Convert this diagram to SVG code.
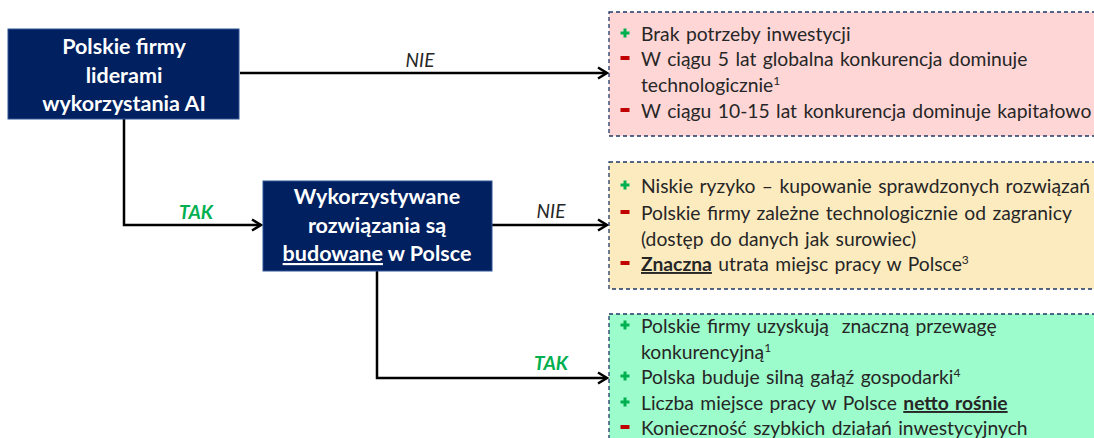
<svg xmlns="http://www.w3.org/2000/svg" width="1094" height="438" viewBox="0 0 1094 438">
<style>
.dec{fill:#002060;stroke:#2f5597;stroke-width:1}
.dt{font-family:Lato,"Liberation Sans",sans-serif;font-weight:bold;font-size:21.5px;fill:#fff;text-anchor:middle}
.out{stroke:#1f3864;stroke-width:1.3;stroke-dasharray:4 3}
.bt{font-family:Lato,"Liberation Sans",sans-serif;font-size:19.3px;fill:#262626;word-spacing:1.5px}
.sup{font-size:12px}
.con{fill:none;stroke:#000;stroke-width:2.5}
.nie{font-family:Lato,"Liberation Sans",sans-serif;font-style:italic;font-size:19px;fill:#262626;text-anchor:middle}
.tak{font-family:Lato,"Liberation Sans",sans-serif;font-style:italic;font-weight:bold;font-size:19px;fill:#00b050;text-anchor:middle}
.plus{fill:#00b050}
.minus{fill:#c00000}
</style>
<defs>
<marker id="arr" markerWidth="14" markerHeight="14" refX="11" refY="7" orient="auto" markerUnits="userSpaceOnUse">
<polyline points="2,1.5 11,7 2,12.5" fill="none" stroke="#000" stroke-width="2.5"/>
</marker>
<g id="pl"><rect x="-4.5" y="-1.5" width="9" height="3"/><rect x="-1.5" y="-4.5" width="3" height="9"/></g>
<rect id="mi" x="-4.5" y="-2" width="9" height="4"/>
</defs>

<g id="connectors">
<path class="con" d="M240,73 H607" marker-end="url(#arr)"/>
<text class="nie" x="420" y="67">NIE</text>
<path class="con" d="M124,119 V225 H261" marker-end="url(#arr)"/>
<text class="tak" x="196" y="219">TAK</text>
<path class="con" d="M492,225 H607" marker-end="url(#arr)"/>
<text class="nie" x="551" y="218">NIE</text>
<path class="con" d="M377,271 V378 H607" marker-end="url(#arr)"/>
<text class="tak" x="551" y="370">TAK</text>
</g>

<g id="node-leaders">
<rect class="dec" x="8" y="29" width="231" height="90"/>
<text class="dt" x="124" y="54">Polskie firmy</text>
<text class="dt" x="124" y="83">liderami</text>
<text class="dt" x="124" y="111">wykorzystania AI</text>
</g>

<g id="node-built">
<rect class="dec" x="263" y="181" width="229" height="90"/>
<text class="dt" x="377" y="204">Wykorzystywane</text>
<text class="dt" x="377" y="233">rozwiązania są</text>
<text class="dt" x="377" y="261"><tspan text-decoration="underline">budowane</tspan> w Polsce</text>
</g>

<g id="node-nie1">
<rect class="out" x="609" y="12" width="500" height="124" fill="#ffd6d6"/>
<use href="#pl" class="plus" x="625" y="33"/>
<text class="bt" x="641" y="41">Brak potrzeby inwestycji</text>
<use href="#mi" class="minus" x="625" y="58"/>
<text class="bt" x="641" y="66">W ciągu 5 lat globalna konkurencja dominuje</text>
<text class="bt" x="641" y="92">technologicznie<tspan class="sup" dy="-7">1</tspan></text>
<use href="#mi" class="minus" x="625" y="110"/>
<text class="bt" x="641" y="118">W ciągu 10-15 lat konkurencja dominuje kapitałowo</text>
</g>

<g id="node-nie2">
<rect class="out" x="609" y="162" width="500" height="127" fill="#fdebc0"/>
<use href="#pl" class="plus" x="625" y="185"/>
<text class="bt" x="641" y="193">Niskie ryzyko – kupowanie sprawdzonych rozwiązań</text>
<use href="#mi" class="minus" x="625" y="212"/>
<text class="bt" x="641" y="220">Polskie firmy zależne technologicznie od zagranicy</text>
<text class="bt" x="641" y="246">(dostęp do danych jak surowiec)</text>
<use href="#mi" class="minus" x="625" y="263"/>
<text class="bt" x="641" y="271"><tspan font-weight="bold" text-decoration="underline">Znaczna</tspan> utrata miejsc pracy w Polsce<tspan class="sup" dy="-7">3</tspan></text>
</g>

<g id="node-tak">
<rect class="out" x="609" y="314" width="500" height="140" fill="#9cfccb"/>
<use href="#pl" class="plus" x="625" y="325"/>
<text class="bt" x="641" y="333">Polskie firmy uzyskują&#160; znaczną przewagę</text>
<text class="bt" x="641" y="359">konkurencyjną<tspan class="sup" dy="-7">1</tspan></text>
<use href="#pl" class="plus" x="625" y="376"/>
<text class="bt" x="641" y="384">Polska buduje silną gałąź gospodarki<tspan class="sup" dy="-7">4</tspan></text>
<use href="#pl" class="plus" x="625" y="402"/>
<text class="bt" x="641" y="410">Liczba miejsce pracy w Polsce <tspan font-weight="bold" text-decoration="underline">netto rośnie</tspan></text>
<use href="#mi" class="minus" x="625" y="427"/>
<text class="bt" x="641" y="435">Konieczność szybkich działań inwestycyjnych</text>
</g>
</svg>
